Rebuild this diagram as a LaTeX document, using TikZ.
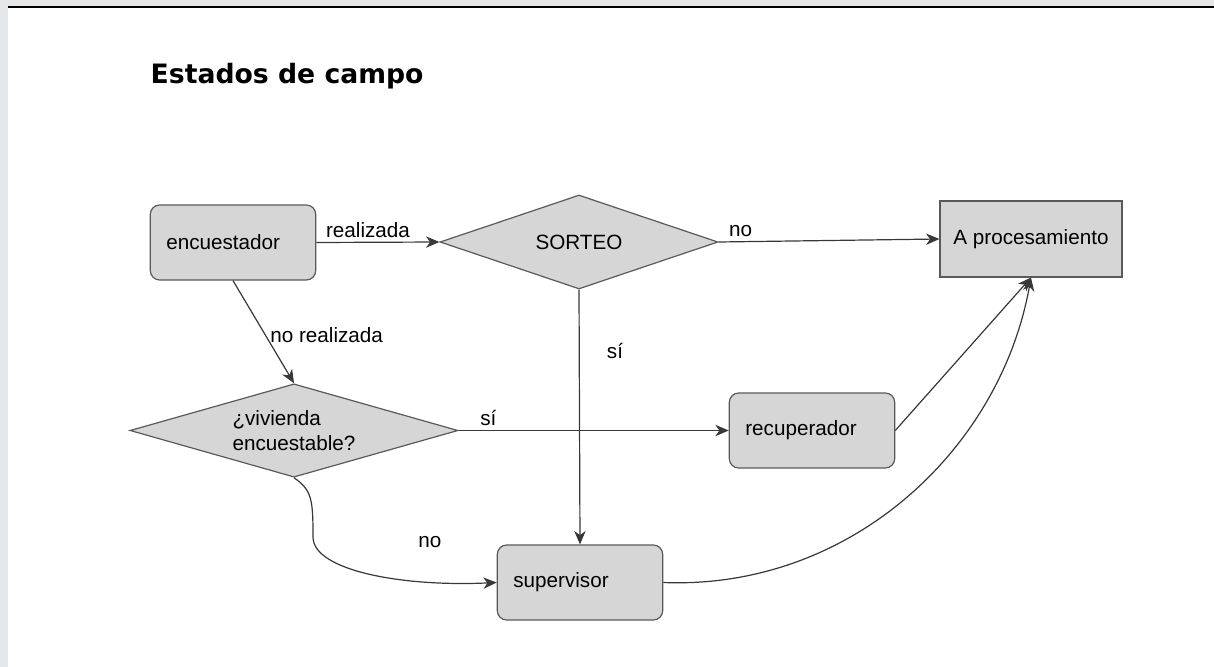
\documentclass[tikz,border=0pt]{standalone}
\usepackage{fontspec}
\setmainfont{Liberation Sans}
\newfontfamily\titlefont{DejaVu Sans}
\usetikzlibrary{shapes.geometric,arrows.meta}
\definecolor{boxgray}{HTML}{D6D6D6}
\definecolor{linegray}{HTML}{383838}
\definecolor{bordergray}{HTML}{5A5A5A}
\definecolor{pagegray}{HTML}{E6E7E8}
\tikzset{
  agent/.style={rectangle, rounded corners=7pt, draw=bordergray, fill=boxgray, line width=0.9pt,
    text width=100pt, align=left, inner xsep=12pt, minimum height=56.25pt},
  decision/.style={diamond, draw=bordergray, fill=boxgray, line width=0.9pt, inner sep=0pt},
  final/.style={rectangle, draw=bordergray, fill=boxgray, line width=0.9pt,
    minimum width=136.5pt, minimum height=57pt},
  flow/.style={draw=linegray, line width=0.9pt, -{Stealth[length=10pt, width=8.5pt, inset=3pt]}}
}

\begin{document}
\begin{tikzpicture}[x=0.75pt, y=-0.75pt, font=\fontsize{15.5}{18.5}\selectfont]
  \useasboundingbox (0,0) rectangle (1214,667);
  % page
  \fill[pagegray] (0,0) rectangle (1214,667);
  \fill[white] (8,8) rectangle (1214,667);
  \draw[line width=1.6pt] (8,7) -- (1214,7);

  \node[anchor=base west, font=\titlefont\bfseries\fontsize{20}{24}\selectfont] (title) at (146,84) {Estados de campo};

  % nodes
  \node[agent] (enc) at (233,242.5) {encuestador};
  \node[decision, shape aspect=2.96, minimum width=208.5pt, minimum height=70.5pt] (sorteo) at (579,242) {SORTEO};
  \node[final] (proc) at (1031,239) {A procesamiento};
  \node[decision, shape aspect=3.5, minimum width=246pt, minimum height=70pt, align=left] (viv) at (294,430.5) {¿vivienda\\encuestable?};
  \node[agent] (rec) at (812,430.5) {recuperador};
  \node[agent] (sup) at (580,582.5) {supervisor};

  % edges
  \draw[flow] (enc.east) -- node[pos=.42, above] {realizada} (sorteo.west);
  \draw[flow] (sorteo.east) -- node[pos=.1, above] {no} (proc.west);
  \draw[flow] (enc.south) -- node[pos=.53, right] {no realizada} (viv.north);
  \draw[flow] (sorteo.south) -- node[pos=.24, right=17pt] {sí} (sup.north);
  \draw[flow] (viv.east) -- node[pos=.11, above] {sí} (rec.west);
  \draw[flow] (viv.south) .. controls (312,490) and (313,500) .. (313,537)
    .. controls (313,570) and (400,587) .. node[pos=.76, above=22pt] {no} (sup.west);
  \draw[flow] (rec.east) -- (proc.south);
  \draw[flow] (sup.east) .. controls (850,590) and (1000,450) .. (proc.south);
\end{tikzpicture}
\end{document}
